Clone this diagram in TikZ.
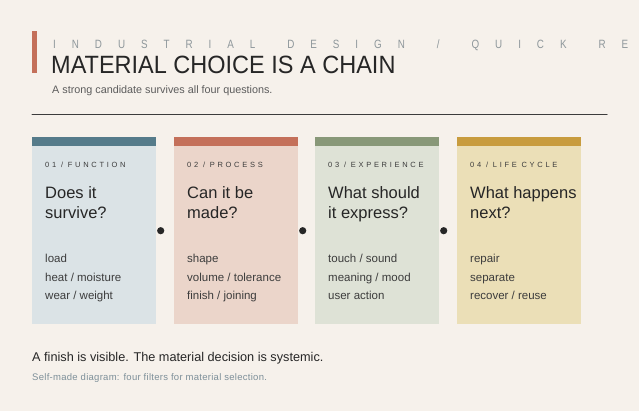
\documentclass[tikz,border=0pt]{standalone}
\usepackage{fontspec}
\setmainfont{Liberation Sans}
\newfontfamily\kickerfont{Liberation Sans}[FakeStretch=0.82,LetterSpace=133]
\newfontfamily\titlefont{Liberation Sans}[FakeStretch=0.94]
\newfontfamily\tagfont{Liberation Sans}[LetterSpace=36]
\newfontfamily\notefont{Liberation Sans}[LetterSpace=3]
\newcommand{\kgap}{\hspace{32pt}}
\usetikzlibrary{positioning}
\definecolor{paper}{HTML}{F6F1EB}
\definecolor{ink}{HTML}{262626}
\definecolor{greyink}{HTML}{8E979B}
\definecolor{noteink}{HTML}{7D8F99}
\definecolor{accent}{HTML}{C4705A}
\definecolor{barA}{HTML}{557B8A} \definecolor{boxA}{HTML}{DBE3E6}
\definecolor{barB}{HTML}{C4705A} \definecolor{boxB}{HTML}{EBD5CA}
\definecolor{barC}{HTML}{889878} \definecolor{boxC}{HTML}{DEE2D6}
\definecolor{barD}{HTML}{C89C3E} \definecolor{boxD}{HTML}{EBDFB7}
% one question card: name, left x, tag, question (2 lines), checks (3 lines)
\newcommand{\matcard}[8]{%
  \node[cardbox, fill=box#1] (card#1) at (#2,137) {};
  \fill[bar#1] (card#1.north west) rectangle ([yshift=-9pt]card#1.north east);
  \node[tagtext] (tag#1) at ([xshift=13pt,yshift=-31pt]card#1.north west) {#3};
  \node[asktext] (qa#1) at ([xshift=13pt,yshift=-62pt]card#1.north west) {#4};
  \node[asktext] (qb#1) at ([xshift=13pt,yshift=-82pt]card#1.north west) {#5};
  \node[checktext] (ia#1) at ([xshift=13pt,yshift=-126pt]card#1.north west) {#6};
  \node[checktext] (ib#1) at ([xshift=13pt,yshift=-144pt]card#1.north west) {#7};
  \node[checktext] (ic#1) at ([xshift=13pt,yshift=-162pt]card#1.north west) {#8};
}
\begin{document}
\begin{tikzpicture}[x=1pt, y=-1pt, line cap=round,
	cardbox/.style={anchor=north west, minimum width=124pt, minimum height=187pt, inner sep=0pt},
	tagtext/.style={anchor=base west, inner sep=0pt, text=ink!90, font=\tagfont\fontsize{7.5}{9}\selectfont},
	asktext/.style={anchor=base west, inner sep=0pt, text=ink, font=\fontsize{16.5}{20}\selectfont},
	checktext/.style={anchor=base west, inner sep=0pt, text=ink!90, font=\fontsize{11.5}{14}\selectfont},
	link/.style={circle, fill=ink, inner sep=0pt, minimum size=7.2pt},
	plain/.style={anchor=base west, inner sep=0pt}]
	\fill[paper] (0,0) rectangle (639,411);
	% header
	\fill[accent] (32,31) rectangle (37,73);
	\node[plain, text=greyink, font=\kickerfont\fontsize{12}{14}\selectfont] (kicker) at (53,49) {INDUSTRIAL\kgap DESIGN\kgap /\kgap QUICK\kgap RE};
	\node[plain, text=ink, font=\titlefont\fontsize{25}{30}\selectfont] (title) at (51,74) {MATERIAL CHOICE IS A CHAIN};
	\node[plain, text=ink!75, font=\fontsize{10.8}{13}\selectfont] (lead) at (52,94) {A strong candidate survives all four questions.};
	\draw[ink!90, line width=1pt] (32,115) -- (607,115);
	% cards
	\matcard{A}{32}{01 / FUNCTION}{Does it}{survive?}{load}{heat / moisture}{wear / weight}
	\matcard{B}{174}{02 / PROCESS}{Can it be}{made?}{shape}{volume / tolerance}{finish / joining}
	\matcard{C}{315}{03 / EXPERIENCE}{What should}{it express?}{touch / sound}{meaning / mood}{user action}
	\matcard{D}{457}{04 / LIFE CYCLE}{What happens}{next?}{repair}{separate}{recover / reuse}
	\node[link, right=0.5pt of cardA] (linkAB) {};
	\node[link, right=0.5pt of cardB] (linkBC) {};
	\node[link, right=0.5pt of cardC] (linkCD) {};
	% footer
	\node[plain, text=ink, font=\fontsize{12.7}{15}\selectfont] (moral) at (32,361) {A finish is visible. The material decision is systemic.};
	\node[plain, text=noteink, font=\notefont\fontsize{9.5}{11}\selectfont] (source) at (32,380) {Self-made diagram: four filters for material selection.};
\end{tikzpicture}
\end{document}
